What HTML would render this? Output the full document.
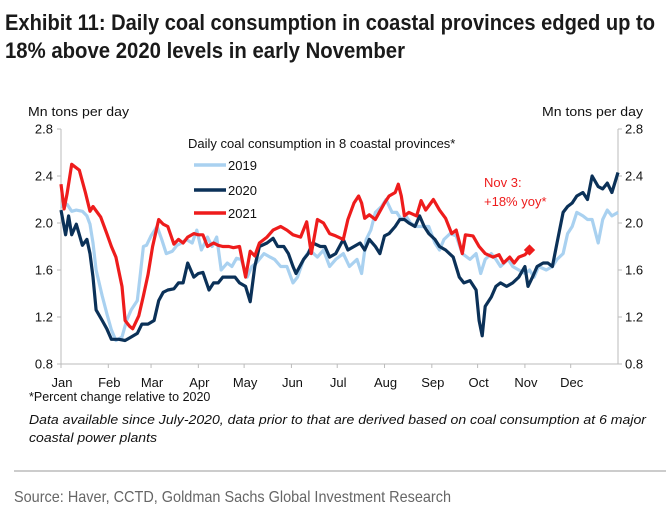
<!DOCTYPE html>
<html><head><meta charset="utf-8"><style>
html,body{margin:0;padding:0;background:#fff;}
svg{display:block;font-family:"Liberation Sans",Arial,sans-serif;}
</style></head><body>
<svg id="chart" width="666" height="526" viewBox="0 0 666 526">
<text x="5" y="30" font-family="'Liberation Sans Narrow','Liberation Sans',sans-serif" font-weight="bold" font-size="22" fill="#1a1a1a" textLength="650" lengthAdjust="spacingAndGlyphs">Exhibit 11: Daily coal consumption in coastal provinces edged up to</text>
<text x="5" y="58" font-family="'Liberation Sans Narrow','Liberation Sans',sans-serif" font-weight="bold" font-size="22" fill="#1a1a1a" textLength="400" lengthAdjust="spacingAndGlyphs">18% above 2020 levels in early November</text>
<text x="28" y="116" font-size="13" fill="#111" textLength="101" lengthAdjust="spacingAndGlyphs">Mn tons per day</text>
<text x="643" y="116" font-size="13" fill="#111" text-anchor="end" textLength="101" lengthAdjust="spacingAndGlyphs">Mn tons per day</text>
<g id="axes"></g>
<g id="series"></g>
<g>
<text x="188" y="148" font-size="13" fill="#111">Daily coal consumption in 8 coastal provinces*</text>
<line x1="194" y1="165" x2="226" y2="165" stroke="#a9d1f0" stroke-width="3.5"/>
<text x="228" y="170" font-size="13" fill="#111">2019</text>
<line x1="194" y1="190" x2="226" y2="190" stroke="#0b3158" stroke-width="3.5"/>
<text x="228" y="195" font-size="13" fill="#111">2020</text>
<line x1="194" y1="213" x2="226" y2="213" stroke="#ee1c1c" stroke-width="3.5"/>
<text x="228" y="218" font-size="13" fill="#111">2021</text>
</g>
<text x="484" y="187" font-size="13" fill="#ee1c1c">Nov 3:</text>
<text x="484" y="206" font-size="13" fill="#ee1c1c">+18% yoy*</text>
<text x="29" y="401" font-size="12.5" fill="#111">*Percent change relative to 2020</text>
<text x="29" y="424" font-size="12.5" font-style="italic" fill="#111" textLength="617" lengthAdjust="spacingAndGlyphs">Data available since July-2020, data prior to that are derived based on coal consumption at 6 major</text>
<text x="29" y="442" font-size="12.5" font-style="italic" fill="#111" textLength="128" lengthAdjust="spacingAndGlyphs">coastal power plants</text>
<line x1="14" y1="471" x2="666" y2="471" stroke="#999" stroke-width="1"/>
<text x="14" y="502" font-family="'Liberation Sans Narrow','Liberation Sans',sans-serif" font-size="16" fill="#666" textLength="437" lengthAdjust="spacingAndGlyphs">Source: Haver, CCTD, Goldman Sachs Global Investment Research</text>
</svg>
<script>
const months = ["Jan","Feb","Mar","Apr","May","Jun","Jul","Aug","Sep","Oct","Nov","Dec"];
const monthStartDays = [0,31,59,90,120,151,181,212,243,273,304,334];
const yTicks = [0.8,1.2,1.6,2.0,2.4,2.8];
const yTickLabels = ["0.8","1.2","1.6","2.0","2.4","2.8"];

const days2019 = [0,4,7,10,14,17,19,21,23,27,30,33,36,40,43,46,50,52,54,56,59,63,66,69,73,76,79,82,86,89,92,96,99,102,105,109,112,115,118,122,125,128,133,137,140,144,148,152,155,159,163,168,172,176,180,185,189,194,197,200,203,206,210,213,217,220,223,226,229,233,237,241,245,248,251,255,259,263,268,272,275,278,282,285,288,293,296,300,304,307,310,313,318,322,325,329,332,335,338,342,345,348,352,355,358,361,365];
const vals2019 = [2.14,2.16,2.10,2.11,2.10,2.06,1.99,1.83,1.60,1.38,1.23,1.09,1.00,1.03,1.17,1.26,1.34,1.57,1.80,1.81,1.89,1.97,1.86,1.74,1.76,1.81,1.83,1.86,1.83,1.94,1.77,1.88,1.80,1.88,1.60,1.66,1.63,1.70,1.69,1.54,1.63,1.66,1.74,1.71,1.69,1.63,1.63,1.49,1.54,1.69,1.77,1.71,1.77,1.63,1.69,1.74,1.63,1.69,1.57,1.86,1.94,2.09,2.14,2.20,2.09,2.09,2.03,2.06,2.00,1.97,1.97,1.97,1.83,1.77,1.86,1.91,1.89,1.74,1.69,1.74,1.57,1.69,1.74,1.69,1.63,1.69,1.63,1.60,1.57,1.60,1.54,1.63,1.60,1.63,1.69,1.74,1.91,1.97,2.09,2.06,2.03,2.03,1.83,2.03,2.11,2.06,2.09];

const days2020 = [0,3,5,7,10,14,17,19,21,23,27,30,33,38,42,46,50,53,57,61,64,67,70,74,77,80,83,87,90,93,97,100,103,106,111,114,117,121,124,127,130,135,139,142,146,149,152,154,159,162,165,170,173,176,180,185,188,192,196,199,202,206,209,212,215,219,222,225,228,232,235,238,241,245,248,252,257,261,264,268,272,274,276,278,282,285,288,292,296,300,304,306,309,312,316,319,322,325,329,332,335,338,342,345,348,352,355,358,361,365];
const vals2020 = [2.11,1.90,2.06,1.90,1.99,1.81,1.86,1.74,1.54,1.26,1.17,1.10,1.01,1.01,1.00,1.03,1.06,1.14,1.14,1.17,1.34,1.41,1.43,1.44,1.49,1.49,1.66,1.54,1.57,1.58,1.43,1.49,1.49,1.54,1.54,1.54,1.49,1.46,1.33,1.63,1.80,1.83,1.87,1.80,1.80,1.74,1.63,1.57,1.69,1.74,1.83,1.80,1.80,1.71,1.74,1.86,1.77,1.80,1.83,1.77,1.86,1.80,1.74,1.89,1.91,1.97,2.03,2.03,2.00,1.97,2.06,1.97,1.91,1.86,1.80,1.77,1.71,1.54,1.49,1.51,1.43,1.17,1.04,1.29,1.37,1.46,1.49,1.46,1.49,1.54,1.63,1.46,1.54,1.63,1.66,1.66,1.63,1.83,2.09,2.14,2.17,2.23,2.26,2.20,2.40,2.31,2.29,2.34,2.26,2.43];

const days2021 = [0,2,4,7,12,16,19,21,26,30,33,36,40,42,45,47,51,54,57,60,64,67,70,74,77,80,83,87,90,93,96,100,103,106,110,113,117,121,124,127,130,135,139,144,148,152,157,161,164,168,172,176,180,185,188,192,195,197,199,202,206,209,212,215,219,221,223,225,228,233,236,239,244,248,252,256,259,263,265,270,274,278,283,287,290,294,297,300,304,307];
const vals2021 = [2.33,2.12,2.25,2.50,2.45,2.26,2.10,2.14,2.05,1.91,1.80,1.71,1.46,1.17,1.12,1.10,1.21,1.38,1.56,1.80,2.03,1.99,1.97,1.82,1.86,1.83,1.88,1.91,1.90,1.90,1.80,1.83,1.81,1.80,1.80,1.79,1.80,1.54,1.76,1.72,1.83,1.88,1.94,1.97,1.94,1.90,1.88,2.01,1.74,2.03,2.00,1.91,1.89,1.86,2.03,2.17,2.23,2.17,2.04,2.07,2.03,2.10,2.17,2.23,2.26,2.33,2.23,2.06,2.09,2.06,2.19,2.11,2.20,2.11,2.04,1.91,1.94,1.74,1.90,1.89,1.80,1.74,1.71,1.73,1.66,1.71,1.66,1.71,1.73,1.77];
const markerDay = 307, markerVal = 1.77;

const X0 = 61, X1 = 618, Y0 = 364, Y1 = 129;
const xScale = d => X0 + d / 365 * (X1 - X0);
const yScale = v => Y0 - (v - 0.8) / 2.0 * (Y0 - Y1);
const NS = "http://www.w3.org/2000/svg";
const axes = document.getElementById("axes");
const series = document.getElementById("series");
function mk(tag, attrs, parent) {
  const e = document.createElementNS(NS, tag);
  for (const k in attrs) e.setAttribute(k, attrs[k]);
  parent.appendChild(e);
  return e;
}
let e = mk("line", {x1:X0, y1:Y1, x2:X0, y2:Y0, stroke:"#bbb", "stroke-width":1}, axes);


e = mk("line", {x1:X1, y1:Y1, x2:X1, y2:Y0, stroke:"#bbb", "stroke-width":1}, axes);


e = mk("line", {x1:X0, y1:Y0, x2:X1, y2:Y0, stroke:"#bbb", "stroke-width":1}, axes);


yTicks.forEach((v, i) => {
  const y = yScale(v);
  let t = mk("line", {x1:X0-4, y1:y, x2:X0, y2:y, stroke:"#bbb"}, axes);
  
  
  t = mk("line", {x1:X1, y1:y, x2:X1+4, y2:y, stroke:"#bbb"}, axes);
  
  
  let l = mk("text", {x:X0-8, y:y+4.5, "text-anchor":"end", "font-size":13, fill:"#111"}, axes);
  l.textContent = yTickLabels[i];
  
  
  l = mk("text", {x:X1+7, y:y+4.5, "font-size":13, fill:"#111"}, axes);
  l.textContent = yTickLabels[i];
  
  
});
months.forEach((m, i) => {
  const x = xScale(monthStartDays[i]);
  let t = mk("line", {x1:x, y1:Y0, x2:x, y2:Y0+4, stroke:"#bbb"}, axes);
  
  
  let l = mk("text", {x:x+1, y:Y0+23, "text-anchor":"middle", "font-size":13, fill:"#111"}, axes);
  l.textContent = m;
  
  
});
function drawLine(days, vals, color, name) {
  const d = days.map((dd, i) => (i ? "L" : "M") + xScale(dd).toFixed(1) + " " + yScale(vals[i]).toFixed(1)).join(" ");
  const p = mk("path", {d:d, fill:"none", stroke:color, "stroke-width":3.2, "stroke-linejoin":"round"}, series);
  
  
}
drawLine(days2019, vals2019, "#a9d1f0", "line-2019");
drawLine(days2020, vals2020, "#0b3158", "line-2020");
drawLine(days2021, vals2021, "#ee1c1c", "line-2021");
const mx = xScale(markerDay), my = yScale(markerVal);
const mark = mk("rect", {x:mx-4, y:my-4, width:8, height:8, fill:"#ee1c1c", transform:"rotate(45 " + mx + " " + my + ")"}, series);


</script>
</body></html>
